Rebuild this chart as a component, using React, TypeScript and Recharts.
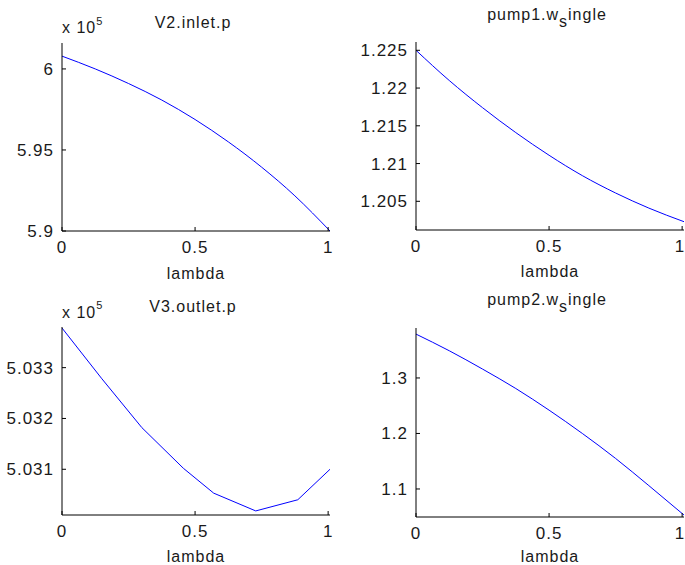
import { LineChart, Line, XAxis, YAxis } from 'recharts'

const FONT = '"Liberation Sans", Arial, Helvetica, sans-serif'
const INK = '#1a1a1a'

// lambda sweep shared by the smooth curves
const lambda = [0, 0.125, 0.25, 0.375, 0.5, 0.625, 0.75, 0.875, 1.007]
// V2.inlet.p, in units of 10^5
const v2InletP = [6.0079, 6.0, 5.991, 5.9808, 5.9688, 5.955, 5.9394, 5.9217, 5.9]
const pump1WSingle = [1.225, 1.221, 1.2174, 1.2141, 1.2111, 1.2084, 1.2061, 1.2041, 1.2023]
const pump2WSingle = [1.379, 1.349, 1.316, 1.281, 1.242, 1.2, 1.155, 1.106, 1.053]

// V3.outlet.p has its own uneven steps, also in units of 10^5
const lambdaV3 = [0, 0.15, 0.3, 0.456, 0.57, 0.728, 0.886, 1.007]
const v3OutletP = [5.03378, 5.03278, 5.03182, 5.03102, 5.03053, 5.03018, 5.0304, 5.031]

const xTicks = [0, 0.5, 1]
const v2Ticks = [5.9, 5.95, 6]
const pump1Ticks = [1.205, 1.21, 1.215, 1.22, 1.225]
const v3Ticks = [5.031, 5.032, 5.033]
const pump2Ticks = [1.1, 1.2, 1.3]

const X_DOMAIN: [number, number] = [0, 1.007]
const tickStyle = { fill: INK, fontSize: 17, fontFamily: FONT }

type PanelProps = {
  left: number
  top: number
  width: number
  height: number
  marginTop: number
  marginRight: number
  yWidth: number
  xHeight: number
  xs: number[]
  ys: number[]
  yDomain: [number, number]
  yTicks: number[]
  labelOffset: number
  smooth: boolean
}

function Panel(p: PanelProps) {
  const data = p.xs.map((x, i) => ({ lambda: x, value: p.ys[i] }))
  // keep the "1" label inside the page at the right edge
  const xTick = (t: any) => (
    <text
      x={Math.min(t.x, p.width - 5)}
      y={t.y}
      dy="0.71em"
      textAnchor="middle"
      fill={INK}
      fontSize={17}
      fontFamily={FONT}
    >
      {String(t.payload.value)}
    </text>
  )
  return (
    <div style={{ position: 'absolute', left: p.left, top: p.top }}>
      <LineChart
        width={p.width}
        height={p.height}
        data={data}
        margin={{ top: p.marginTop, right: p.marginRight, left: 0, bottom: 0 }}
      >
        <XAxis
          xAxisId="b"
          dataKey="lambda"
          type="number"
          domain={X_DOMAIN}
          allowDataOverflow
          ticks={xTicks}
          interval={0}
          tickSize={-4}
          tickMargin={14}
          height={p.xHeight}
          stroke="#000"
          tick={xTick}
          label={{
            value: 'lambda',
            position: 'insideBottom',
            offset: p.labelOffset,
            fill: INK,
            fontSize: 16,
            fontFamily: FONT,
          }}
        />
        <XAxis
          xAxisId="t"
          orientation="top"
          dataKey="lambda"
          type="number"
          domain={X_DOMAIN}
          allowDataOverflow
          ticks={xTicks}
          interval={0}
          tickSize={-4}
          height={0}
          stroke="#000"
          tick={false}
        />
        <YAxis
          yAxisId="l"
          type="number"
          domain={p.yDomain}
          allowDataOverflow
          ticks={p.yTicks}
          interval={0}
          tickSize={-4}
          tickMargin={12}
          width={p.yWidth}
          stroke="#000"
          tick={tickStyle}
          tickFormatter={(v: number) => String(v)}
        />
        <YAxis
          yAxisId="r"
          orientation="right"
          type="number"
          domain={p.yDomain}
          allowDataOverflow
          ticks={p.yTicks}
          interval={0}
          tickSize={-4}
          width={0}
          stroke="#000"
          tick={false}
        />
        <Line
          xAxisId="b"
          yAxisId="l"
          type={p.smooth ? 'monotone' : 'linear'}
          dataKey="value"
          stroke="#0000ff"
          strokeWidth={1}
          dot={false}
          isAnimationActive={false}
        />
      </LineChart>
    </div>
  )
}

export default function App() {
  return (
    <div
      style={{
        position: 'absolute',
        left: 0,
        top: 0,
        width: 685,
        height: 565,
        background: '#fff',
        fontFamily: FONT,
        letterSpacing: '1px',
        overflow: 'hidden',
      }}
    >
      <Panel left={0} top={0} width={340} height={282} marginTop={43} marginRight={10}
        yWidth={62} xHeight={51} xs={lambda} ys={v2InletP} smooth
        yDomain={[5.9, 6.016]} yTicks={v2Ticks} labelOffset={3} />
      <Panel left={343} top={0} width={342} height={282} marginTop={42} marginRight={1}
        yWidth={73} xHeight={52} xs={lambda} ys={pump1WSingle} smooth
        yDomain={[1.2012, 1.2261]} yTicks={pump1Ticks} labelOffset={5} />
      <Panel left={0} top={283} width={340} height={282} marginTop={44} marginRight={10}
        yWidth={62} xHeight={50} xs={lambdaV3} ys={v3OutletP} smooth={false}
        yDomain={[5.0301, 5.0338]} yTicks={v3Ticks} labelOffset={3} />
      <Panel left={343} top={283} width={342} height={282} marginTop={45} marginRight={1}
        yWidth={73} xHeight={48} xs={lambda} ys={pump2WSingle} smooth
        yDomain={[1.0495, 1.39]} yTicks={pump2Ticks} labelOffset={3} />

      {/* titles and exponent labels */}
      <svg width={685} height={565} style={{ position: 'absolute', left: 0, top: 0, pointerEvents: 'none' }}>
        <g fill={INK} fontSize={16} fontFamily={FONT}>
          <text x={62} y={33}>x 10<tspan dy={-8} fontSize={11}>5</tspan></text>
          <text x={193} y={28} textAnchor="middle">V2.inlet.p</text>
          <text x={547} y={20} textAnchor="middle">
            pump1.w<tspan dy={7}>s</tspan><tspan dy={-7}>ingle</tspan>
          </text>
          <text x={62} y={318}>x 10<tspan dy={-9} fontSize={11}>5</tspan></text>
          <text x={193} y={312} textAnchor="middle">V3.outlet.p</text>
          <text x={547} y={305} textAnchor="middle">
            pump2.w<tspan dy={7}>s</tspan><tspan dy={-7}>ingle</tspan>
          </text>
        </g>
      </svg>
    </div>
  )
}
